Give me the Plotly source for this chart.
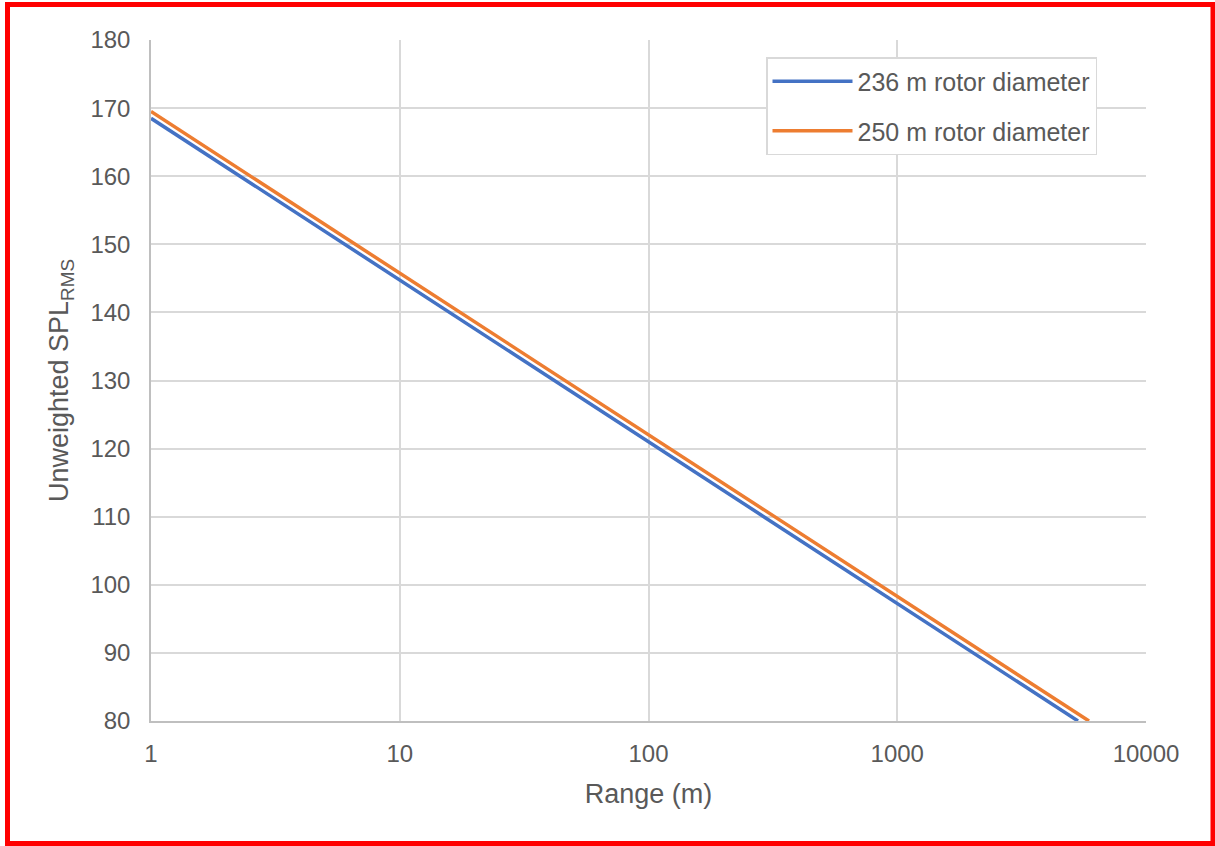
import plotly.graph_objects as go

# Data
range_236 = [1, 10, 100, 1000, 5330]
spl_236 = [168.5, 144.75, 121.0, 97.25, 80.0]
range_250 = [1, 10, 100, 1000, 5900]
spl_250 = [169.5, 145.8, 122.0, 98.3, 80.0]
names = ["236 m rotor diameter", "250 m rotor diameter"]
x_ticks = [1, 10, 100, 1000, 10000]
x_tick_labels = ["1", "10", "100", "1000", "10000"]
y_ticks = list(range(80, 181, 10))

W, H = 1215, 846
L, R, T, B = 151, 69, 40, 125
pw, ph = W - L - R, H - T - B

def px2x(px):
    return (px - L) / pw

def py2y(py):
    return (H - B - py) / ph

fig = go.Figure()
fig.add_trace(go.Scatter(x=range_236, y=spl_236, mode="lines", name=names[0],
                         line=dict(color="#4472C4", width=3.5), legendgroup="a"))
fig.add_trace(go.Scatter(x=range_250, y=spl_250, mode="lines", name=names[1],
                         line=dict(color="#ED7D31", width=3.5), legendgroup="b"))

font_col = "#595959"
grid_col = "#d9d9d9"

fig.update_layout(
    width=W, height=H,
    margin=dict(l=L, r=R, t=T, b=B),
    paper_bgcolor="white", plot_bgcolor="white",
    font=dict(family="Liberation Sans, Arial, sans-serif", size=24, color=font_col),
    showlegend=True,
    legend=dict(x=px2x(766), y=py2y(57), xanchor="left", yanchor="top",
                bordercolor=grid_col, borderwidth=1.5, bgcolor="white",
                font=dict(size=25, color=font_col), tracegroupgap=14,
                itemwidth=80),
    xaxis=dict(type="log", range=[0, 4], tickvals=x_ticks, ticktext=x_tick_labels,
               showgrid=True, gridcolor=grid_col, gridwidth=1.5,
               showline=True, linecolor="#bfbfbf", linewidth=1.5,
               ticks="", zeroline=False, ticklabelstandoff=10,
               tickfont=dict(size=24, color=font_col),
               title=dict(text="Range (m)", standoff=19, font=dict(size=27, color=font_col))),
    yaxis=dict(range=[80, 180], tickvals=y_ticks,
               showgrid=True, gridcolor=grid_col, gridwidth=1.5,
               showline=True, linecolor="#bfbfbf", linewidth=1.5,
               ticks="", zeroline=False, ticklabelstandoff=14,
               tickfont=dict(size=24, color=font_col),
               title=dict(text="Unweighted SPL<sub>RMS</sub>", standoff=14,
                          font=dict(size=27, color=font_col))),
    shapes=[dict(type="rect", xref="paper", yref="paper",
                 x0=px2x(7.5), x1=px2x(1213), y0=py2y(843.5), y1=py2y(4.5),
                 line=dict(color="red", width=5), fillcolor="rgba(0,0,0,0)", layer="above")],
)

fig.write_html("out.html", config={"displayModeBar": False},
               post_script="document.body.style.margin='0';document.body.style.overflow='hidden';")
